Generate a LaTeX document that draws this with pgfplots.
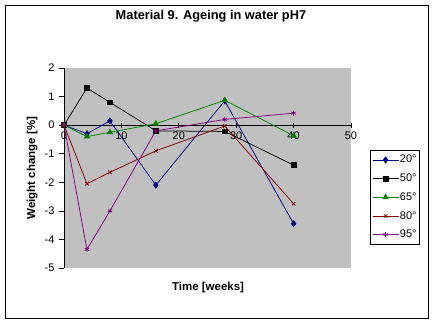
\documentclass[border=0pt]{standalone}
\usepackage{pgfplots}
\pgfplotsset{compat=1.18}
\usepackage{fontspec}
\setmainfont{Liberation Sans}
\definecolor{plotgray}{HTML}{C0C0C0}
\definecolor{navy}{HTML}{000080}
\definecolor{xlgreen}{HTML}{008000}
\definecolor{xlred}{HTML}{800000}
\definecolor{xlpurple}{HTML}{800080}
\begin{document}
\begin{tikzpicture}[x=1pt,y=1pt]
\path[fill=white] (0,0) rectangle (434,325);
\begin{axis}[
  at={(64pt,57pt)}, anchor=south west,
  scale only axis, width=287pt, height=200pt,
  xmin=0, xmax=50, ymin=-5, ymax=2,
  axis x line=middle, axis y line=left,
  hide obscured x ticks=false, hide obscured y ticks=false,
  axis line style={-, black, line width=0.8pt},
  axis background/.style={fill=plotgray},
  xtick={0,10,20,30,40,50}, ytick={-5,-4,-3,-2,-1,0,1,2},
  xticklabels={0,10,20,30,40,50},
  major tick length=5pt,
  xtick align=center, ytick align=outside,
  tick style={black, line width=0.6pt},
  tick label style={font=\fontsize{11}{13}\selectfont},
  /pgf/number format/assume math mode=true,
  xticklabel style={anchor=north, yshift=-1pt},
  yticklabel style={anchor=east, xshift=-1pt},
  title={\textbf{Material 9. Ageing in water pH7}},
  title style={font=\fontsize{12.8}{14}\selectfont, at={(axis description cs:0.512,1.2275)}, anchor=center},
  xlabel={\textbf{Time [weeks]}},
  xlabel style={font=\fontsize{11.5}{13}\selectfont, at={(axis description cs:0.502,-0.10)}, anchor=center},
  ylabel={\textbf{Weight change [\%]}},
  ylabel style={font=\fontsize{11.5}{13}\selectfont, at={(axis description cs:-0.111,0.5)}, anchor=center, rotate=0},
  clip=false,
  legend style={at={(axis description cs:1.066,0.59)}, anchor=north west,
    draw=black, line width=0.6pt, fill=white, font=\fontsize{11}{13}\selectfont,
    row sep=7.5pt, inner xsep=2pt, inner ysep=4pt,
    nodes={inner sep=1pt}},
  legend cell align=left,
  legend image code/.code={\draw[mark repeat=2,mark phase=2,#1] plot coordinates {(0pt,0pt)(13pt,0pt)(26pt,0pt)};},
  every axis plot/.append style={line width=0.75pt},
]
\addplot[navy, mark=diamond*, mark size=3pt] coordinates {(0,0)(4,-0.3)(8,0.15)(16,-2.1)(28,0.85)(40,-3.45)};
\addlegendentry{20°}
\addplot[black, mark=square*, mark size=2.3pt] coordinates {(0,0)(4,1.3)(8,0.8)(16,-0.2)(28,-0.22)(40,-1.4)};
\addlegendentry{50°}
\addplot[xlgreen, mark=triangle*, mark size=3pt] coordinates {(0,0)(4,-0.4)(8,-0.25)(16,0.05)(28,0.87)(40,-0.37)};
\addlegendentry{65°}
\addplot[xlred, mark=x, mark size=2.5pt] coordinates {(0,0)(4,-2.05)(8,-1.65)(16,-0.9)(28,-0.03)(40,-2.75)};
\addlegendentry{80°}
\addplot[xlpurple, mark=asterisk, mark size=2.5pt] coordinates {(0,0)(4,-4.35)(8,-3.0)(16,-0.2)(28,0.2)(40,0.42)};
\addlegendentry{95°}
\end{axis}
\draw[black, line width=0.8pt] (5,7) rectangle (428,320);
\end{tikzpicture}
\end{document}
